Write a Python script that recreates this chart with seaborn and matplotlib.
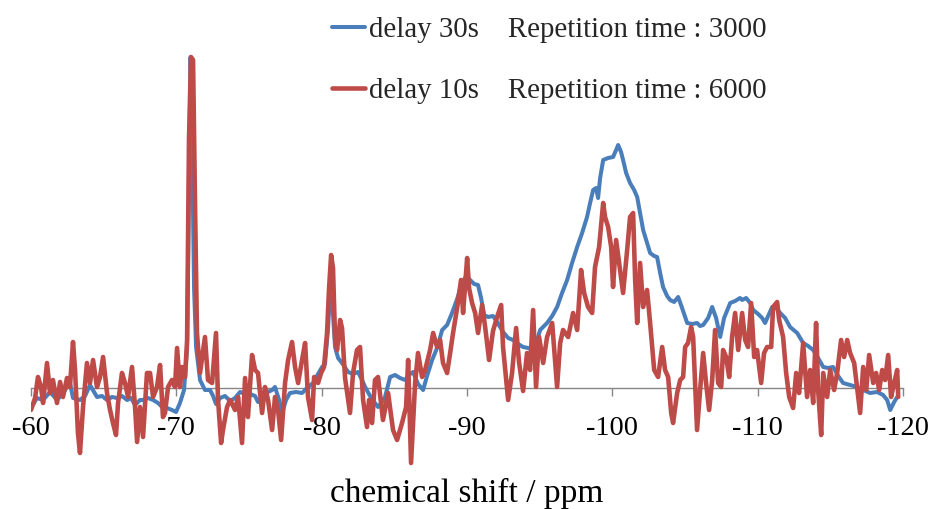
import matplotlib
matplotlib.use("Agg")
import matplotlib.pyplot as plt
import seaborn as sns
import pandas as pd
from matplotlib.lines import Line2D

# ---- data ----
blue_ppm = [-60.0, -60.41, -60.83, -61.31, -61.79, -62.20, -62.68, -62.89, -63.37, -63.72,
            -64.06, -64.54, -64.89, -65.23, -65.57, -65.92, -66.26, -66.61, -66.88, -67.16,
            -67.50, -67.71, -68.05, -68.40, -68.74, -69.02, -69.36, -69.70, -69.98, -70.25,
            -70.53, -70.74, -70.87, -70.98, -71.08, -71.22, -71.36, -71.63, -71.97, -72.32,
            -72.53, -72.73, -73.01, -73.35, -73.70, -74.04, -74.38, -74.73, -75.07, -75.42,
            -75.62, -75.97, -76.31, -76.59, -76.79, -77.07, -77.27, -77.55, -77.82, -78.24,
            -78.65, -78.99, -79.41, -79.75, -80.03, -80.23, -80.44, -80.58, -80.71, -80.92,
            -81.13, -81.40, -81.82, -82.16, -82.50, -82.78, -82.99, -83.33, -83.61, -83.88,
            -84.16, -84.36, -84.71, -85.05, -85.39, -85.74, -86.08, -86.29, -86.63, -86.98,
            -87.25, -87.60, -87.94, -88.29, -88.63, -88.97, -89.32, -89.66, -89.94, -90.21,
            -90.49, -90.76, -90.97, -91.18, -91.45, -91.79, -92.07, -92.48, -92.83, -93.17,
            -93.52, -93.86, -94.20, -94.55, -94.82, -95.03, -95.30, -95.51, -95.86, -96.20,
            -96.54, -96.89, -97.23, -97.58, -97.92, -98.26, -98.47, -98.68, -98.88, -99.02,
            -99.16, -99.37, -99.71, -100.05, -100.26, -100.40, -100.60, -100.74, -100.95, -101.22,
            -101.50, -101.71, -101.91, -102.12, -102.39, -102.60, -102.88, -103.08, -103.29, -103.49,
            -103.77, -103.98, -104.25, -104.53, -104.80, -105.15, -105.49, -105.83, -106.04, -106.25,
            -106.59, -106.87, -107.14, -107.42, -107.69, -108.11, -108.45, -108.79, -108.93, -109.21,
            -109.48, -109.69, -110.03, -110.31, -110.51, -110.72, -111.00, -111.27, -111.55, -111.89,
            -112.23, -112.72, -113.13, -113.47, -113.82, -114.16, -114.51, -114.85, -115.19, -115.54,
            -115.88, -116.36, -116.84, -117.26, -117.74, -118.22, -118.63, -118.91, -119.12, -119.39,
            -119.60]
blue_int = [-20, -10, -12, -4, -12, -5, 5, -10, -12, -8,
            3, -9, -8, -12, -9, -10, -8, -12, -10, -17,
            -12, -12, -10, -12, -15, -19, -20, -22, -24, -15,
            -2, 40, 200, 331, 250, 100, 41, 8, -2, -2,
            -8, -16, -10, -8, -13, -10, -4, -6, -6, -8,
            -14, -8, -4, -2, 1, -12, -25, -12, -5, -4,
            -5, 0, 5, 14, 21, 24, 60, 98, 90, 41,
            30, 25, 16, 14, 16, 8, 1, -8, -14, -19,
            -14, -9, 11, 13, 10, 8, 14, 16, 4, -2,
            12, 28, 40, 58, 63, 75, 89, 105, 112, 108,
            104, 103, 90, 73, 71, 72, 66, 56, 50, 48,
            44, 41, 40, 38, 48, 58, 62, 65, 72, 81,
            95, 108, 125, 141, 155, 171, 185, 198, 200, 190,
            210, 228, 230, 231, 238, 243, 236, 228, 215, 205,
            198, 191, 175, 158, 145, 135, 132, 131, 115, 101,
            92, 88, 86, 91, 80, 65, 64, 65, 62, 63,
            70, 81, 70, 51, 70, 85, 87, 90, 88, 90,
            85, 78, 74, 70, 65, 72, 81, 80, 75, 70,
            61, 55, 45, 42, 38, 30, 21, 20, 21, 12,
            5, 3, 1, -2, -5, -4, -7, -12, -22, -14,
            -9]

red_ppm = [-60.00, -60.28, -60.48, -60.69, -60.83, -61.10, -61.31, -61.51, -61.79, -62.00,
           -62.20, -62.48, -62.68, -62.89, -63.03, -63.23, -63.37, -63.58, -63.85, -64.06,
           -64.27, -64.54, -64.75, -64.96, -65.23, -65.44, -65.64, -65.85, -65.99, -66.26,
           -66.47, -66.68, -66.95, -67.16, -67.30, -67.50, -67.71, -67.98, -68.19, -68.40,
           -68.67, -68.88, -69.08, -69.22, -69.43, -69.70, -69.91, -70.05, -70.25, -70.39,
           -70.60, -70.74, -70.87, -71.01, -71.15, -71.29, -71.42, -71.63, -71.97, -72.18,
           -72.46, -72.73, -72.87, -73.08, -73.21, -73.49, -73.70, -74.04, -74.25, -74.52,
           -74.73, -74.93, -75.21, -75.42, -75.62, -75.90, -76.10, -76.31, -76.59, -76.79,
           -77.00, -77.21, -77.48, -77.69, -77.96, -78.17, -78.38, -78.65, -78.86, -79.06,
           -79.34, -79.48, -79.75, -79.96, -80.16, -80.37, -80.51, -80.65, -80.78, -80.92,
           -81.06, -81.27, -81.40, -81.61, -81.82, -81.95, -82.16, -82.43, -82.64, -82.85,
           -83.12, -83.26, -83.47, -83.67, -83.88, -84.22, -84.57, -84.91, -85.19, -85.53,
           -85.81, -85.95, -86.15, -86.43, -86.63, -86.91, -87.12, -87.46, -87.67, -87.94,
           -88.15, -88.35, -88.63, -88.84, -89.04, -89.32, -89.59, -89.73, -90.01, -90.14,
           -90.35, -90.56, -90.76, -91.04, -91.24, -91.52, -91.79, -92.07, -92.35, -92.48,
           -92.83, -93.10, -93.38, -93.58, -93.86, -94.13, -94.34, -94.55, -94.75, -94.96,
           -95.24, -95.51, -95.86, -96.20, -96.41, -96.61, -96.96, -97.30, -97.58, -97.85,
           -98.06, -98.33, -98.61, -98.81, -99.09, -99.37, -99.50, -99.71, -99.92, -100.05,
           -100.26, -100.47, -100.74, -101.02, -101.22, -101.43, -101.57, -101.71, -101.91, -102.12,
           -102.39, -102.60, -102.88, -103.15, -103.43, -103.63, -103.84, -104.05, -104.18, -104.46,
           -104.67, -104.87, -105.01, -105.21, -105.42, -105.56, -105.83, -106.04, -106.25, -106.45,
           -106.66, -106.87, -107.07, -107.28, -107.49, -107.62, -107.83, -108.04, -108.24, -108.45,
           -108.66, -108.93, -109.14, -109.34, -109.55, -109.76, -109.96, -110.24, -110.44, -110.65,
           -110.93, -111.06, -111.34, -111.48, -111.75, -111.96, -112.17, -112.44, -112.65, -112.85,
           -113.13, -113.40, -113.61, -113.82, -114.02, -114.16, -114.37, -114.51, -114.78, -114.99,
           -115.26, -115.47, -115.74, -115.95, -116.16, -116.36, -116.64, -116.84, -117.05, -117.26,
           -117.47, -117.67, -117.95, -118.15, -118.36, -118.57, -118.77, -118.98, -119.18, -119.39,
           -119.60, -119.67]
red_int = [-22, -10, 11, 1, -15, 25, -5, 8, -15, 6,
           -9, 10, 1, 46, 18, -45, -65, -19, 25, 5,
           28, 1, 11, 31, -5, -22, -35, -47, -15, 15,
           5, -9, 21, -19, -54, -19, -49, 15, 15, -9,
           1, 23, -29, -25, 1, 8, 1, 40, 1, 21,
           11, 48, 248, 331, 328, 181, 55, 15, 51, 8,
           5, 55, -12, -55, -42, -19, -12, -22, -9, -55,
           10, -29, 33, 18, 15, -25, 1, -12, -42, -9,
           -22, -52, 5, 28, 46, 21, 5, 28, 45, -9,
           -32, 11, 5, 15, 21, 55, 100, 133, 120, 51,
           38, 68, 60, 10, -12, -25, 15, 38, 41, -12,
           -39, -12, -35, 8, 11, -32, -5, -42, -52, -35,
           -19, 28, -75, 5, 35, 11, 18, 38, 55, 41,
           48, 25, 15, 35, 55, 80, 108, 75, 130, 100,
           85, 75, 55, 83, 62, 28, 57, 71, 83, 41,
           -12, 15, 60, 26, -3, 35, 18, 78, 1, 51,
           25, 51, 65, 1, 45, 58, 51, 75, 58, 118,
           95, 81, 75, 121, 141, 185, 171, 161, 141, 101,
           148, 125, 95, 138, 171, 175, 108, 65, 125, 81,
           98, 65, 18, 11, 41, 18, 11, -25, -35, -5,
           8, 11, 41, 45, 61, 51, -42, -2, 35, 5,
           -22, 8, 58, 5, 1, 38, 31, 11, 51, 75,
           38, 75, 48, 41, 85, 31, 38, 5, 35, 41,
           41, 81, 86, 68, 51, 15, -9, -20, 15, -5,
           45, -9, 18, -15, 65, -2, -47, 15, -9, 18,
           -2, 15, 48, 31, 48, 35, 25, 1, -25, 21,
           -2, 33, 5, 15, -2, 18, 8, 33, -9, 5,
           18, -9]

x_ticks = [-60, -70, -80, -90, -100, -110, -120]
label_blue = "delay 30s    Repetition time : 3000"
label_red = "delay 10s    Repetition time : 6000"
x_label = "chemical shift / ppm"

blue_color = "#4A7EBB"
red_color = "#BE4B48"

df_blue = pd.DataFrame({"ppm": blue_ppm, "intensity": blue_int})
df_red = pd.DataFrame({"ppm": red_ppm, "intensity": red_int})

sns.set_theme(style="white")
plt.rcParams["font.family"] = ["Liberation Serif", "DejaVu Serif"]
plt.rcParams["axes.unicode_minus"] = False

W, H = 930, 509
fig = plt.figure(figsize=(W / 100, H / 100), dpi=100)
ax = fig.add_axes([31 / W, (H - 468) / H, 872 / W, 468 / H])

sns.lineplot(data=df_blue, x="ppm", y="intensity", ax=ax, color=blue_color,
             linewidth=2.9, estimator=None, sort=False, legend=False)
sns.lineplot(data=df_red, x="ppm", y="intensity", ax=ax, color=red_color,
             linewidth=3.3, estimator=None, sort=False, legend=False)

ax.set_xlim(-60, -120)
ax.set_ylim(-80, 388)
ax.set_xticks(x_ticks)
ax.set_xticklabels([str(t) for t in x_ticks])
ax.set_yticks([])
for s in ["top", "right", "left"]:
    ax.spines[s].set_visible(False)
ax.spines["bottom"].set_position(("data", 0))
ax.spines["bottom"].set_color("#868686")
ax.spines["bottom"].set_linewidth(1.0)
ax.spines["bottom"].set_zorder(1)
ax.tick_params(axis="x", direction="out", length=6, width=1.0, color="#868686",
               labelsize=20.5, pad=14, labelcolor="black", bottom=True)
ax.set_ylabel("")
ax.set_xlabel(x_label, fontsize=24, color="black")
ax.xaxis.label.set_va("center")
ax.xaxis.set_label_coords(0.5, (468 - 493) / 468)
ax.set_facecolor("white")
ax.grid(False)

handles = [Line2D([0], [0], color=blue_color, lw=2.9),
           Line2D([0], [0], color=red_color, lw=3.3)]
fig.legend(handles, [label_blue, label_red], loc="upper left",
           bbox_to_anchor=(332 / W, 1 - 17 / H), frameon=False,
           fontsize=20.8, handlelength=1.15, handletextpad=0.12,
           labelspacing=1.2, borderpad=0, borderaxespad=0)

fig.savefig("out.png", dpi=100, facecolor="white")
